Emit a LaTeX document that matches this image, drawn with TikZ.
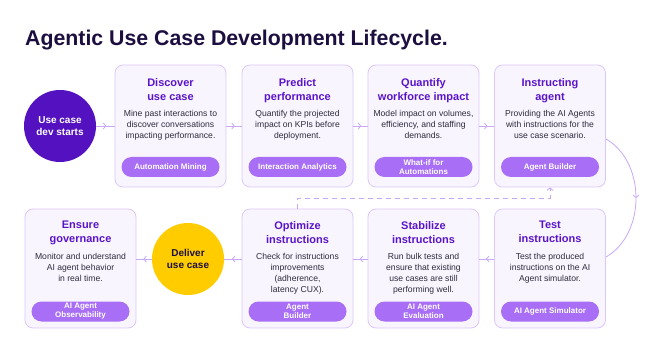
\documentclass[tikz,border=0pt]{standalone}
\usepackage{fontspec}
\setmainfont{Liberation Sans}
\usetikzlibrary{arrows.meta,decorations.markings,calc}
\definecolor{titlecol}{HTML}{1C0E3F}
\definecolor{startcol}{HTML}{5411C0}
\definecolor{ttlpurple}{HTML}{5A14C8}
\definecolor{bodygray}{HTML}{2E2B3A}
\definecolor{boxfill}{HTML}{F9F5FF}
\definecolor{boxborder}{HTML}{DCC8FC}
\definecolor{pillcol}{HTML}{A86EF5}
\definecolor{conncol}{HTML}{C8A8FA}
\definecolor{delivercol}{HTML}{FFCC00}
\tikzset{
  stagebox/.style={draw=boxborder, fill=boxfill, rounded corners=8pt, line width=0.8pt, minimum width=111pt, inner sep=0pt},
  topbox/.style={stagebox, minimum height=122pt},
  botbox/.style={stagebox, minimum height=119pt},
  ttl/.style={font=\fontsize{11}{14}\selectfont\bfseries, text=ttlpurple, align=center, anchor=north, inner sep=0pt},
  bodytxt/.style={font=\fontsize{8.6}{11}\selectfont, text=bodygray, align=center, anchor=north, inner sep=0pt},
  pill/.style={fill=pillcol, rounded corners=10pt, minimum width=98pt, minimum height=20pt, inner sep=0pt, text=white, font=\fontsize{8}{9}\selectfont\bfseries, align=center},
  bigcirc/.style={circle, minimum size=72pt, inner sep=0pt, align=center, font=\fontsize{10}{12}\selectfont\bfseries},
  conn/.style={draw=conncol, line width=0.8pt, postaction={decorate},
    decoration={markings, mark=at position #1 with {\arrow{Straight Barb[length=2.5pt,width=6pt]}}}},
  conn/.default=0.55,
  dashconn/.style={draw=conncol, line width=0.8pt, dash pattern=on 5pt off 4pt, -{Straight Barb[length=2.5pt,width=6pt]}}
}
\begin{document}
\begin{tikzpicture}[x=1pt,y=-1pt]
\useasboundingbox[fill=white] (0,0) rectangle (648,339);
% title
\node[anchor=base west, inner sep=0pt, font=\fontsize{21.3}{24}\selectfont\bfseries, text=titlecol] (title) at (25,46) {Agentic Use Case Development Lifecycle.};

% start circle
\node[bigcirc, fill=startcol, text=white] (start) at (60,126) {Use case\\dev starts};

% top row boxes
\node[topbox] (disc) at (170.5,126) {};
\node[topbox] (pred) at (297.5,126) {};
\node[topbox] (quant) at (423.5,126) {};
\node[topbox] (instr) at (550,126) {};

\node[ttl] (discT) at (170.5,78) {Discover\\use case};
\node[bodytxt] (discB) at (170.5,110) {Mine past interactions to\\discover conversations\\impacting performance.};
\node[pill] (discP) at (170.5,167) {Automation Mining};

\node[ttl] (predT) at (297.5,78) {Predict\\performance};
\node[bodytxt] (predB) at (297.5,110) {Quantify the projected\\impact on KPIs before\\deployment.};
\node[pill] (predP) at (297.5,167) {Interaction Analytics};

\node[ttl] (quantT) at (423.5,78) {Quantify\\workforce impact};
\node[bodytxt] (quantB) at (423.5,110) {Model impact on volumes,\\efficiency, and staffing\\demands.};
\node[pill] (quantP) at (423.5,167) {What-if for\\Automations};

\node[ttl] (instrT) at (550,78) {Instructing\\agent};
\node[bodytxt] (instrB) at (550,110) {Providing the AI Agents\\with instructions for the\\use case scenario.};
\node[pill] (instrP) at (550,167) {Agent Builder};

% bottom row
\node[bigcirc, fill=delivercol, text=titlecol] (deliver) at (188,259) {Deliver\\use case};

\node[botbox] (ens) at (80.5,268.5) {};
\node[botbox] (opt) at (297.5,268.5) {};
\node[botbox] (stab) at (423.5,268.5) {};
\node[botbox] (test) at (550,268.5) {};

\node[ttl] (ensT) at (80.5,221) {Ensure\\governance};
\node[bodytxt] (ensB) at (80.5,253) {Monitor and understand\\AI agent behavior\\in real time.};
\node[pill] (ensP) at (80.5,311.5) {AI Agent\\Observability};

\node[ttl] (optT) at (297.5,221) {Optimize\\instructions};
\node[bodytxt] (optB) at (297.5,253) {Check for instructions\\improvements\\(adherence,\\latency CUX).};
\node[pill] (optP) at (297.5,311.5) {Agent\\Builder};

\node[ttl] (stabT) at (423.5,221) {Stabilize\\instructions};
\node[bodytxt] (stabB) at (423.5,253) {Run bulk tests and\\ensure that existing\\use cases are still\\performing well.};
\node[pill] (stabP) at (423.5,311.5) {AI Agent\\Evaluation};

\node[ttl] (testT) at (550,221) {Test\\instructions};
\node[bodytxt] (testB) at (550,253) {Test the produced\\instructions on the AI\\Agent simulator.};
\node[pill] (testP) at (550,311.5) {AI Agent Simulator};

% top connectors
\draw[conn] (start.east) -- (disc.west);
\draw[conn] (disc.east) -- (pred.west);
\draw[conn] (pred.east) -- (quant.west);
\draw[conn] (quant.east) -- (instr.west);

% curve
\coordinate (cA) at (606,139);
\coordinate (cB) at (606,257);
\draw[conn=0.5] (cA) .. controls (646,162) and (646,234) .. (cB);

% bottom connectors
\draw[conn] (test.west |- deliver.center) -- (stab.east |- deliver.center);
\draw[conn] (stab.west |- deliver.center) -- (opt.east |- deliver.center);
\draw[conn] (opt.west |- deliver.center) -- (deliver.east);
\draw[conn] (deliver.west) -- (ens.east |- deliver.center);

% dashed feedback
\coordinate (dline) at (0,198);
\draw[dashconn] (opt.north) |- (dline -| instr.south) -- (instr.south);
\end{tikzpicture}
\end{document}
